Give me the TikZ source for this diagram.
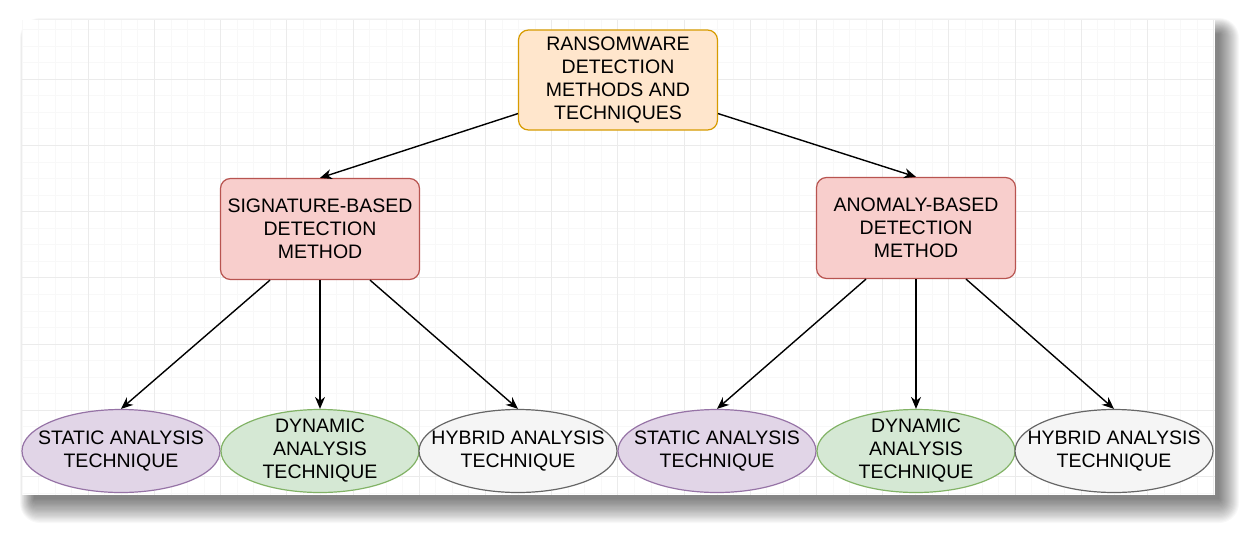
\documentclass[tikz,border=0pt]{standalone}
\usepackage{fontspec}
\setmainfont{Liberation Sans}
\usetikzlibrary{arrows.meta,shapes.geometric}
\definecolor{orfill}{HTML}{FFE6CC}\definecolor{ordraw}{HTML}{D79B00}
\definecolor{rdfill}{HTML}{F8CECC}\definecolor{rddraw}{HTML}{B85450}
\definecolor{pufill}{HTML}{E1D5E7}\definecolor{pudraw}{HTML}{9673A6}
\definecolor{grfill}{HTML}{D5E8D4}\definecolor{grdraw}{HTML}{82B366}
\definecolor{gyfill}{HTML}{F5F5F5}\definecolor{gydraw}{HTML}{666666}
\definecolor{gridmaj}{HTML}{EBEBEB}\definecolor{gridmin}{HTML}{F8F8F8}
\tikzset{
  lbl/.style={font=\fontsize{19.5}{23}\selectfont, align=center, text=black, inner sep=0pt},
  rbox/.style={lbl, rounded corners=10pt, line width=1.2pt, minimum width=199pt},
  topbox/.style={rbox, fill=orfill, draw=ordraw, minimum height=100pt},
  redbox/.style={rbox, fill=rdfill, draw=rddraw, minimum height=101pt},
  oval/.style={lbl, ellipse, inner xsep=-30pt, inner ysep=-12pt, line width=1.2pt, minimum width=198pt, minimum height=83pt},
  staticoval/.style={oval, fill=pufill, draw=pudraw},
  dynoval/.style={oval, fill=grfill, draw=grdraw},
  hyboval/.style={oval, fill=gyfill, draw=gydraw},
  conn/.style={line width=1.4pt, -{Stealth[length=12pt,width=10pt]}},
  shadowlayer/.style={fill=black, opacity=0.028}
}
\begin{document}
\begin{tikzpicture}[x=1pt,y=-1pt]
\useasboundingbox (0,0) rectangle (1257,538);
\fill[white] (0,0) rectangle (1257,538);
% soft shadow of the canvas
\foreach \k in {0,...,20} {
  \fill[shadowlayer, rounded corners=\k pt] (34-0.7*\k,34-0.8*\k) rectangle (1219+\k,499+1.2*\k);
}
% canvas
\fill[white] (22,20) rectangle (1215,495);
\begin{scope}
\clip (22,20) rectangle (1215,495);
\foreach \i in {0,...,75} {\draw[gridmin, line width=0.8pt] (22+16.55*\i,20) -- (22+16.55*\i,495);}
\foreach \j in {0,...,30} {\draw[gridmin, line width=0.8pt] (22,13+16.55*\j) -- (1215,13+16.55*\j);}
\foreach \i in {1,...,18} {\draw[gridmaj, line width=1pt] (22+66.2*\i,20) -- (22+66.2*\i,495);}
\foreach \j in {1,...,7} {\draw[gridmaj, line width=1pt] (22,13+66.2*\j) -- (1215,13+66.2*\j);}
\end{scope}
% nodes
\node[topbox] (top) at (618,80) {RANSOMWARE\\DETECTION\\METHODS AND\\TECHNIQUES};
\node[redbox] (sig) at (320,229) {SIGNATURE-BASED\\DETECTION\\METHOD};
\node[redbox] (ano) at (916,228) {ANOMALY-BASED\\DETECTION\\METHOD};
\node[staticoval] (s1) at (121,451) {STATIC ANALYSIS\\TECHNIQUE};
\node[dynoval] (d1) at (320,451) {DYNAMIC\\ANALYSIS\\TECHNIQUE};
\node[hyboval] (h1) at (518,451) {HYBRID ANALYSIS\\TECHNIQUE};
\node[staticoval] (s2) at (717,451) {STATIC ANALYSIS\\TECHNIQUE};
\node[dynoval] (d2) at (916,451) {DYNAMIC\\ANALYSIS\\TECHNIQUE};
\node[hyboval] (h2) at (1114,451) {HYBRID ANALYSIS\\TECHNIQUE};
% connectors
\draw[conn] ([yshift=17pt]top.south west) -- (sig.north);
\draw[conn] ([yshift=17pt]top.south east) -- (ano.north);
\draw[conn] ([xshift=-50pt]sig.south) -- (s1.north);
\draw[conn] (sig.south) -- (d1.north);
\draw[conn] ([xshift=50pt]sig.south) -- (h1.north);
\draw[conn] ([xshift=-50pt]ano.south) -- (s2.north);
\draw[conn] (ano.south) -- (d2.north);
\draw[conn] ([xshift=50pt]ano.south) -- (h2.north);
\end{tikzpicture}
\end{document}
